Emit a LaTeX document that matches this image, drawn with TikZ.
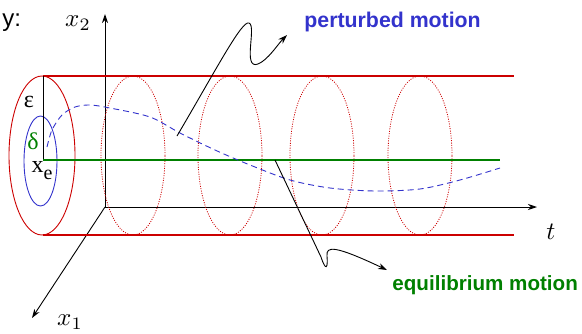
\documentclass[tikz,border=0pt]{standalone}
\usepackage{fontspec}
\usetikzlibrary{arrows.meta}
\newfontfamily\labelsans{Liberation Sans}
\newfontfamily\labelserif{Liberation Serif}
\definecolor{tubered}{RGB}{204,0,0}
\definecolor{pertblue}{RGB}{51,51,204}
\definecolor{eqgreen}{RGB}{0,128,0}
\tikzset{mathlabel/.style={inner sep=0pt,scale=2.5},
  greeklabel/.style={inner sep=0pt,font=\labelserif\fontsize{24}{26}\selectfont},
  motionlabel/.style={anchor=base west,inner sep=0pt,font=\labelsans\bfseries\fontsize{21.3}{23}\selectfont}}
\begin{document}
\begin{tikzpicture}[x=1pt,y=-1pt,>={Stealth[length=9pt,width=6pt]},line width=.9pt]
  \useasboundingbox (0,0) rectangle (582,333);
  \node[anchor=base west,inner sep=0pt,font=\labelsans\fontsize{24}{26}\selectfont] (ylab) at (2,26.5) {y:};
  % axes
  \coordinate (O) at (105,207); \coordinate (x2end) at (105,14); \coordinate (tend) at (537,207); \coordinate (x1end) at (32,318);
  \draw[->] (O)--(x2end); \draw[->] (O)--(tend); \draw[->] (O)--(x1end);
  \node[mathlabel] (x2lab) at (78,23) {$x_2$}; \node[mathlabel] (tlab) at (551,232) {$t$}; \node[mathlabel] (x1lab) at (70,322) {$x_1$};
  % tube
  \coordinate (tl) at (43,76); \coordinate (tr) at (514,76); \coordinate (bl) at (43,235); \coordinate (br) at (514,235);
  \draw[tubered,line width=1.5pt] (tl)--(tr) (bl)--(br);
  \draw[tubered] (42,155.5) ellipse (33pt and 79.5pt);
  \foreach \c in {133,230,322,420} {\draw[tubered,line width=.8pt,dash pattern=on 1pt off 1.4pt] (\c,155.5) ellipse (32pt and 79.5pt);}
  \draw[pertblue] (40.5,161) ellipse (16.5pt and 45pt);
  \coordinate (eqstart) at (43,160); \coordinate (eqend) at (500,160);
  \draw (tl)--(eqstart); \draw[eqgreen,line width=1.5pt] (eqstart)--(eqend);
  \draw[pertblue,dash pattern=on 6pt off 4pt] plot[smooth] coordinates {(47,147) (52,130) (62,115) (75,107) (90,105) (110,108) (150,117) (180,133) (215,150) (250,165) (290,180) (330,188) (375,191) (420,189) (460,180) (500,168)};
  \node[greeklabel] (epslab) at (29,102) {ε}; \node[greeklabel,text=eqgreen] (deltalab) at (33,141) {δ};
  \node[greeklabel] (xelab) at (42,171) {x\raisebox{-7pt}{\fontsize{20}{20}\selectfont e}};
  % pointers
  \coordinate (pstart) at (177,136); \coordinate (ptip) at (287,35);
  \draw[->] (pstart) .. controls (217,68) and (242,20) .. (249,23) .. controls (257,26) and (242,70) .. (258,64) .. controls (268,60) and (278,44) .. (ptip);
  \coordinate (estart) at (275,160); \coordinate (etip) at (387,270);
  \draw[->] (estart) -- (321,257) .. controls (326,272) and (328,268) .. (327,256) .. controls (326,246) and (334,245) .. (etip);
  \node[motionlabel,text=pertblue] (pertlab) at (304,27.5) {perturbed motion};
  \node[motionlabel,text=eqgreen,font=\labelsans\bfseries\fontsize{20.6}{23}\selectfont] (eqlab) at (392,290.5) {equilibrium motion};
\end{tikzpicture}
\end{document}
